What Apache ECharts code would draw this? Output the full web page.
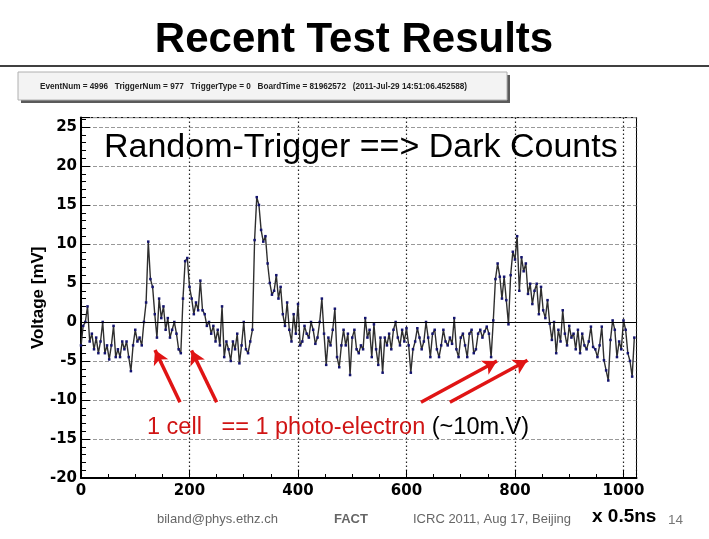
<!DOCTYPE html>
<html><head><meta charset="utf-8">
<script src="https://cdn.jsdelivr.net/npm/echarts@6/dist/echarts.min.js"></script>
<style>html,body{margin:0;padding:0;background:#fff;}#c{width:709px;height:539px;}</style>
</head><body><div id="c"></div>
<script>
// Sample number (x, units of 0.5 ns)
const sampleIndex = [
0,4,8,12,16,20,24,28,32,36,40,44,48,52,56,60,
64,68,72,76,80,84,88,92,96,100,104,108,112,116,120,124,
128,132,136,140,144,148,152,156,160,164,168,172,176,180,184,188,
192,196,200,204,208,212,216,220,224,228,232,236,240,244,248,252,
256,260,264,268,272,276,280,284,288,292,296,300,304,308,312,316,
320,324,328,332,336,340,344,348,352,356,360,364,368,372,376,380,
384,388,392,396,400,404,408,412,416,420,424,428,432,436,440,444,
448,452,456,460,464,468,472,476,480,484,488,492,496,500,504,508,
512,516,520,524,528,532,536,540,544,548,552,556,560,564,568,572,
576,580,584,588,592,596,600,604,608,612,616,620,624,628,632,636,
640,644,648,652,656,660,664,668,672,676,680,684,688,692,696,700,
704,708,712,716,720,724,728,732,736,740,744,748,752,756,760,764,
768,772,776,780,784,788,792,796,800,804,808,812,816,820,824,828,
832,836,840,844,848,852,856,860,864,868,872,876,880,884,888,892,
896,900,904,908,912,916,920,924,928,932,936,940,944,948,952,956,
960,964,968,972,976,980,984,988,992,996,1000,1004,1008,1012,1016,1020
];
// Voltage [mV]
const voltage = [
-3,-0.5,0,2,-2.5,-1.5,-3.5,-2,-4,-2.5,0,-4,-3,-4.8,-3,-0.5,
-4.5,-3.5,-4.5,-2.5,-3.5,-2.5,-4.5,-6.3,-3,-1,-2.5,-2,-3,0,2.5,10.3,
5.5,4.5,1,-2,3,0.5,2,-1,0.5,-2,-1,0,-1.5,-3.5,-4,3,
7.8,8.2,4.5,3,1,2.5,1.5,5.3,1.5,1,-0.5,0,-1.5,-0.5,-2.5,-1,
-3,2,-4.5,-2.5,-3.5,-5,-2.5,-3.5,-1.5,-5.3,-3,0,-3.5,-4,-2.5,-1,
10.5,16,15,11.8,10.3,11,7.5,5,3.5,4,6,3,4.5,1,-0.5,2.5,
-1,-2.5,1,-1.5,2.3,-3,-2.5,-0.5,-1.5,-2,0,-1,-2.8,-2,0,3,
-1.5,-5.5,-2,-3,-1,1.7,-4.5,-5.8,-3,-1,-3,-1.5,-6.8,-2,-1,-3.5,
-4,-3,-3.5,0.5,-2,-1,-4.5,-0.3,-3.5,-5.5,-2,-6.5,-2,-3,-1.5,-3.5,
-1,0,-2,-3,-1,-2.5,-0.8,-3,-6.5,-3.5,-2.5,-0.8,-2,-3.5,-2.5,0,
-2,-4.5,-1.5,-1,-3.5,-4.5,-3,-1,-2.5,-3,-2,-2.8,0.5,-3.5,-4.5,-2,
-1.5,-3,-4.5,-1.5,-1,-4,-3.5,-1.5,-1,-2,-1.2,-0.6,-1.5,-4.5,0.2,5.5,
7.5,5.8,3,5.8,2.8,-0.3,6,9,8,11,4,8.3,6.5,7.5,3.6,4.9,
2.3,4,4.9,1,4.5,1.5,0.5,2.8,-0.2,-2.3,0,-4,-1,-2.5,1.5,-1.5,
-3,-0.5,-2,-1.5,-3.5,-1,-4,-1.5,-3,-3.5,-2.5,-0.6,-3.2,-3.5,-4.5,-3,
-0.6,-4.9,-6.2,-7.5,-2.3,0.2,-1,-4.5,-2.5,-3.5,0.2,-1,-4,-5,-7,-2
];
const xTickLabels = [0, 200, 400, 600, 800, 1000];
const yTickLabels = [-20, -15, -10, -5, 0, 5, 10, 15, 20, 25];
// annotation arrows, in data coordinates [sample, mV]
const arrowFrom = [[182.5, -10.3], [250, -10.3], [626.7, -10.3], [680, -10.3]];
const arrowTo   = [[136.4, -3.6], [203.7, -3.65], [766.8, -5.0], [823, -4.9]];

const FONT = '"Liberation Sans", Arial, sans-serif';
const chart = echarts.init(document.getElementById('c'), null, {renderer: 'canvas'});
const option = {
  animation: false,
  backgroundColor: '#ffffff',
  grid: {left: 81, top: 117.6, width: 555.5, height: 360.4, show: true, borderColor: '#000', borderWidth: 1, backgroundColor: 'transparent'},
  xAxis: {
    type: 'value', min: 0, max: 1024, interval: 200,
    axisLine: {show: true, onZero: false, lineStyle: {color: '#000', width: 2}},
    axisTick: {show: true, inside: true, length: 8, lineStyle: {color: '#000', width: 1}},
    minorTick: {show: true, splitNumber: 4, length: 4, lineStyle: {color: '#000', width: 1}},
    axisLabel: {margin: 6, color: '#000', fontFamily: '"DejaVu Sans"', fontWeight: 'bold', fontSize: 15,
      formatter: v => xTickLabels.includes(v) ? String(v) : ''},
    splitLine: {show: true, lineStyle: {color: '#222', type: [1.5, 2.5], width: 1.2}}
  },
  yAxis: {
    type: 'value', min: -20, max: 26.2, interval: 5,
    name: 'Voltage [mV]', nameLocation: 'middle', nameGap: 34, nameRotate: 90, nameMoveOverlap: false,
    nameTextStyle: {fontFamily: FONT, fontWeight: 'bold', fontSize: 17, color: '#000'},
    axisLine: {show: true, onZero: false, lineStyle: {color: '#000', width: 2}},
    axisTick: {show: true, inside: true, length: 9, lineStyle: {color: '#000', width: 1}},
    minorTick: {show: true, splitNumber: 5, length: 5, lineStyle: {color: '#000', width: 1}},
    axisLabel: {margin: 4, color: '#000', fontFamily: '"DejaVu Sans"', fontWeight: 'bold', fontSize: 15,
      formatter: v => yTickLabels.includes(v) ? String(v) : ''},
    splitLine: {show: true, lineStyle: {color: '#999', type: 'dashed', width: 1}}
  },
  series: [
    {
      type: 'line', data: sampleIndex.map((x, i) => [x, voltage[i]]),
      symbol: 'rect', symbolSize: 2.5, showSymbol: true, showAllSymbol: true,
      lineStyle: {color: '#2e2e2e', width: 1.4}, itemStyle: {color: '#14146e'}, z: 3,
      markLine: {silent: true, symbol: 'none', label: {show: false}, animation: false,
        lineStyle: {color: '#000', width: 1.2, type: 'solid'}, data: [{yAxis: 0}]}
    },
    {
      type: 'line', data: [], z: 5,
      markLine: {silent: true, symbol: ['none', 'arrow'], symbolSize: [12, 14], label: {show: false}, animation: false,
        lineStyle: {color: '#e01414', width: 3.5, type: 'solid'}, itemStyle: {color: '#e01414'},
        data: arrowFrom.map((f, i) => [{coord: f}, {coord: arrowTo[i]}])}
    }
  ],
  graphic: [
    {type: 'text', x: 354, y: 40, z: 10, style: {text: 'Recent Test Results', font: 'bold 42px ' + FONT, fill: '#000', textAlign: 'center', textVerticalAlign: 'middle'}},
    {type: 'line', z: 10, shape: {x1: 0, y1: 66, x2: 709, y2: 66}, style: {stroke: '#000', lineWidth: 1.5}},
    {type: 'rect', z: 10, shape: {x: 21, y: 75, width: 489, height: 28}, style: {fill: '#5a5a5a'}},
    {type: 'rect', z: 11, shape: {x: 18, y: 72, width: 489, height: 28}, style: {fill: '#f3f3f3', stroke: '#b0b0b0', lineWidth: 1}},
    {type: 'text', x: 40, y: 87, z: 12, style: {text: 'EventNum = 4996   TriggerNum = 977   TriggerType = 0   BoardTime = 81962572   (2011-Jul-29 14:51:06.452588)', font: 'bold 8.2px ' + FONT, fill: '#222', textAlign: 'left', textVerticalAlign: 'middle'}},
    {type: 'text', x: 104, y: 148, z: 12, style: {text: 'Random-Trigger ==> Dark Counts', font: '34px ' + FONT, fill: '#000', textAlign: 'left', textVerticalAlign: 'middle'}},
    {type: 'text', x: 147, y: 428, z: 12, style: {text: '{r|1 cell   == 1 photo-electron }{k|(~10m.V)}', textAlign: 'left', textVerticalAlign: 'middle',
      rich: {r: {fill: '#d01414', color: '#d01414', fontSize: 23.5, fontFamily: FONT}, k: {fill: '#000', color: '#000', fontSize: 23.5, fontFamily: FONT}}}},
    {type: 'text', x: 157, y: 519, z: 12, style: {text: 'biland@phys.ethz.ch', font: '13px ' + FONT, fill: '#666', textAlign: 'left', textVerticalAlign: 'middle'}},
    {type: 'text', x: 334, y: 519, z: 12, style: {text: 'FACT', font: 'bold 13px ' + FONT, fill: '#666', textAlign: 'left', textVerticalAlign: 'middle'}},
    {type: 'text', x: 413, y: 519, z: 12, style: {text: 'ICRC 2011, Aug 17, Beijing', font: '13px ' + FONT, fill: '#666', textAlign: 'left', textVerticalAlign: 'middle'}},
    {type: 'text', x: 592, y: 517, z: 12, style: {text: 'x 0.5ns', font: 'bold 19px ' + FONT, fill: '#000', textAlign: 'left', textVerticalAlign: 'middle'}},
    {type: 'text', x: 668, y: 520, z: 12, style: {text: '14', font: '13.5px ' + FONT, fill: '#777', textAlign: 'left', textVerticalAlign: 'middle'}}
  ]
};
chart.setOption(option);
</script>
</body></html>
